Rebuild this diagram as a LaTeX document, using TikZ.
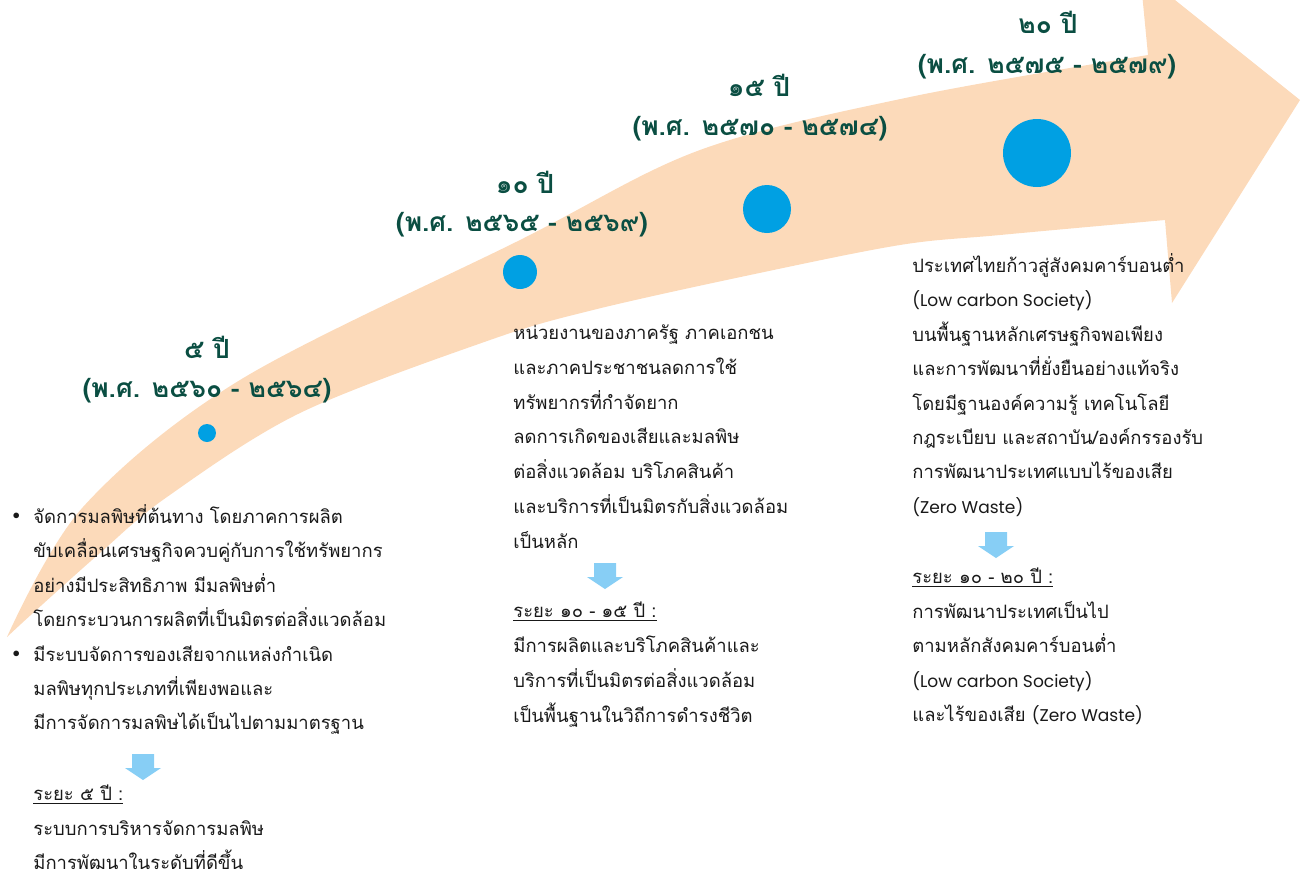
\documentclass[tikz,border=0pt]{standalone}
\usepackage{fontspec}
\setmainfont[Script=Thai]{Loma}
\newfontfamily\latfont{Poppins}

\definecolor{bandorange}{RGB}{252,218,186}
\definecolor{dotblue}{RGB}{0,160,227}
\definecolor{arrowblue}{RGB}{135,206,245}
\definecolor{headgreen}{RGB}{10,78,66}
\definecolor{bodygray}{RGB}{25,25,25}

\newcommand{\eng}[1]{{\latfont\fontsize{9.7}{19.6}\selectfont #1}}

\begin{document}
\begin{tikzpicture}[x=0.02cm, y=-0.02cm,
  heading/.style={text=headgreen, anchor=base, inner sep=0,
    font=\fontsize{15}{18}\selectfont\bfseries},
  body/.style={text=bodygray, align=left, anchor=north west, inner sep=0,
    font=\fontsize{10.5}{19.6}\selectfont, execute at begin node=\strut},
  stagedot/.style={circle, fill=dotblue, inner sep=0}]

  \useasboundingbox (0,0) rectangle (1303,877);

  % The big curved arrow in the background

  \begin{scope}
    \clip (0,0) rectangle (1303,877);
    \fill [bandorange] plot [smooth, tension=0.55] coordinates {
        (7,637) (83,507) (240,380) (520,240) (700,150) (910,97) (1148,55)}
      -- (1140,-28) -- (1300,100) -- (1172,303) -- (1165,220)
      -- plot [smooth, tension=0.55] coordinates {
        (1165,220) (1000,235) (900,245) (750,275) (593,310)
        (490,340) (300,413) (167,497) (100,553) (33,613) (7,637)}
      -- cycle;
  \end{scope}

  % Stage markers on the arrow

  \node [stagedot, minimum size=0.36cm] (dotA) at (207,433) {};
  \node [stagedot, minimum size=0.68cm] (dotB) at (520,272) {};
  \node [stagedot, minimum size=0.96cm] (dotC) at (767,209) {};
  \node [stagedot, minimum size=1.36cm] (dotD) at (1037,153) {};

  % Headings: years and B.E. ranges

  \node [heading] (yrA) at (207,358) {๕ ปี};
  \node [heading] (beA) at (207,397) {(พ.ศ. ๒๕๖๐ - ๒๕๖๔)};
  \node [heading] (yrB) at (525,193) {๑๐ ปี};
  \node [heading] (beB) at (522,231) {(พ.ศ. ๒๕๖๕ - ๒๕๖๙)};
  \node [heading] (yrC) at (759,96) {๑๕ ปี};
  \node [heading] (beC) at (760,135) {(พ.ศ. ๒๕๗๐ - ๒๕๗๔)};
  \node [heading] (yrD) at (1048,33) {๒๐ ปี};
  \node [heading] (beD) at (1047,73) {(พ.ศ. ๒๕๗๕ - ๒๕๗๙)};

  % Goals of each stage

  \node [body] (goalA) at (33,504) {%
    \llap{\latfont\fontsize{13}{19.6}\selectfont•\hspace{7pt}}จัดการมลพิษที่ต้นทาง โดยภาคการผลิต\\
    ขับเคลื่อนเศรษฐกิจควบคู่กับการใช้ทรัพยากร\\
    อย่างมีประสิทธิภาพ มีมลพิษต่ำ\\
    โดยกระบวนการผลิตที่เป็นมิตรต่อสิ่งแวดล้อม\\
    \llap{\latfont\fontsize{13}{19.6}\selectfont•\hspace{7pt}}มีระบบจัดการของเสียจากแหล่งกำเนิด\\
    มลพิษทุกประเภทที่เพียงพอและ\\
    มีการจัดการมลพิษได้เป็นไปตามมาตรฐาน};
  \node [body, font=\fontsize{10.5}{19.9}\selectfont] (goalB) at (513,324) {%
    หน่วยงานของภาครัฐ ภาคเอกชน\\
    และภาคประชาชนลดการใช้\\
    ทรัพยากรที่กำจัดยาก\\
    ลดการเกิดของเสียและมลพิษ\\
    ต่อสิ่งแวดล้อม บริโภคสินค้า\\
    และบริการที่เป็นมิตรกับสิ่งแวดล้อม\\
    เป็นหลัก};
  \node [body] (goalD) at (912,253) {%
    ประเทศไทยก้าวสู่สังคมคาร์บอนต่ำ\\
    \eng{(Low carbon Society)}\\
    บนพื้นฐานหลักเศรษฐกิจพอเพียง\\
    และการพัฒนาที่ยั่งยืนอย่างแท้จริง\\
    โดยมีฐานองค์ความรู้ เทคโนโลยี\\
    กฎระเบียบ และสถาบัน/องค์กรรองรับ\\
    การพัฒนาประเทศแบบไร้ของเสีย\\
    \eng{(Zero Waste)}};

  % Results after each period

  \node [body] (endA) at (33,785) {%
    \underline{ระยะ ๕ ปี :}\\
    ระบบการบริหารจัดการมลพิษ\\
    มีการพัฒนาในระดับที่ดีขึ้น};
  \node [body, font=\fontsize{10.5}{19.9}\selectfont] (endB) at (513,602) {%
    \underline{ระยะ ๑๐ - ๑๕ ปี :}\\
    มีการผลิตและบริโภคสินค้าและ\\
    บริการที่เป็นมิตรต่อสิ่งแวดล้อม\\
    เป็นพื้นฐานในวิถีการดำรงชีวิต};
  \node [body] (endD) at (912,568) {%
    \underline{ระยะ ๑๐ - ๒๐ ปี :}\\
    การพัฒนาประเทศเป็นไป\\
    ตามหลักสังคมคาร์บอนต่ำ\\
    \eng{(Low carbon Society)}\\
    และไร้ของเสีย \eng{(Zero Waste)}};

  % Small arrows from goal to result

  \coordinate (arrA) at (143,754);
  \coordinate (arrB) at (605,563);
  \coordinate (arrD) at (996,532);
  \foreach \a in {arrA,arrB,arrD}
    \fill [arrowblue] (\a) ++(-11,0) -- ++(22,0) -- ++(0,14) -- ++(7,0)
      -- ++(-18,12) -- ++(-18,-12) -- ++(7,0) -- cycle;
\end{tikzpicture}
\end{document}
